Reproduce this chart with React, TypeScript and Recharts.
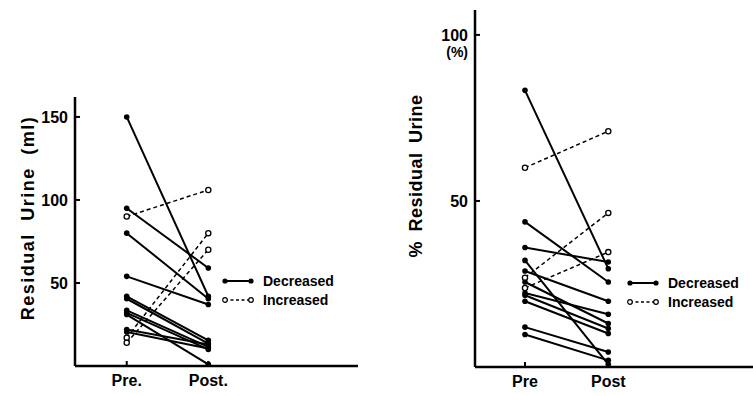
import React from 'react';
import { LineChart, Line, XAxis, YAxis, Legend } from 'recharts';

// ---------- data ----------
const seriesNames = ['Decreased', 'Increased'];

const leftCategories = ['Pre.', 'Post.'];
const leftPre = [150, 95, 80, 54, 42, 40.5, 33.5, 31, 32, 22, 20.5, 90, 17, 14];
const leftPost = [42, 59, 40.5, 37, 15.5, 13.5, 11.5, 1, 10, 13, 10.5, 106, 80, 70];
const leftGroup = [0, 0, 0, 0, 0, 0, 0, 0, 0, 0, 0, 1, 1, 1];
const leftTicks = [50, 100, 150];
const leftYLabel = 'Residual Urine (ml)';

const rightCategories = ['Pre', 'Post'];
const rightPre = [83.3, 43.7, 36, 32.1, 28.9, 25.6, 22.3, 21.6, 19.8, 12, 9.8, 60, 26.9, 23.8];
const rightPost = [29.6, 25.6, 31.6, 0.8, 19.8, 13.1, 15.9, 11.6, 10.1, 4.5, 2.0, 71, 46.4, 34.6];
const rightGroup = [0, 0, 0, 0, 0, 0, 0, 0, 0, 0, 0, 1, 1, 1];
const rightTicks = [50, 100];
const rightYLabel = '% Residual Urine';
const rightUnit = '(%)';

// ---------- helpers ----------
const FONT = '"Liberation Sans", Arial, Helvetica, sans-serif';

function buildRows(pre: number[], post: number[]) {
  const r0: any = { x: 0 };
  const r1: any = { x: 1 };
  pre.forEach((v, i) => {
    r0['p' + i] = v;
    r1['p' + i] = post[i];
  });
  return [r0, r1];
}

const makeYTick = (unit?: string) => (props: any) => {
  const { x, y, payload } = props;
  const ax = x + 7;
  return (
    <g>
      <line x1={ax} x2={ax + 5} y1={y} y2={y} stroke="#000" strokeWidth={2} />
      <text x={x} y={y} dy={6} textAnchor="end" fontSize={16} fontWeight="bold" fontFamily={FONT} fill="#000">
        {payload.value}
      </text>
      {unit && payload.value === 100 ? (
        <text x={x} y={y} dy={22} textAnchor="end" fontSize={14} fontWeight="bold" fontFamily={FONT} fill="#000">
          {unit}
        </text>
      ) : null}
    </g>
  );
};

const makeXTick = (labels: string[]) => (props: any) => {
  const { x, y, payload } = props;
  const ay = y - 2;
  return (
    <g>
      <line x1={x} x2={x} y1={ay} y2={ay - 5} stroke="#000" strokeWidth={2} />
      <text x={x} y={ay + 20} textAnchor="middle" fontSize={16} fontWeight="bold" fontFamily={FONT} fill="#000">
        {labels[payload.value]}
      </text>
    </g>
  );
};

const dotFor = (group: number) => (p: any) => {
  if (p.cx == null || p.cy == null) return <g key={p.key} />;
  return group === 0 ? (
    <circle key={p.key} cx={p.cx} cy={p.cy} r={2.8} fill="#000" stroke="none" />
  ) : (
    <circle key={p.key} cx={p.cx} cy={p.cy} r={2.6} fill="#fff" stroke="#000" strokeWidth={1.3} />
  );
};

const LegendContent = () => (
  <div style={{ fontFamily: FONT, fontSize: 14, fontWeight: 'bold', color: '#000' }}>
    {seriesNames.map((n, i) => (
      <div key={n} style={{ display: 'flex', alignItems: 'center', height: 19, whiteSpace: 'nowrap' }}>
        <svg width={32} height={10} style={{ display: 'block' }}>
          <line
            x1={3}
            x2={29}
            y1={5}
            y2={5}
            stroke="#000"
            strokeWidth={i ? 1.3 : 2}
            strokeDasharray={i ? '3 2.5' : undefined}
          />
          {[3, 29].map((cx) => (
            <circle
              key={cx}
              cx={cx}
              cy={5}
              r={i ? 2.3 : 2.6}
              fill={i ? '#fff' : '#000'}
              stroke="#000"
              strokeWidth={i ? 1.2 : 0}
            />
          ))}
        </svg>
        <span style={{ marginLeft: 9 }}>{n}</span>
      </div>
    ))}
  </div>
);

function Panel(props: {
  pre: number[];
  post: number[];
  group: number[];
  ticks: number[];
  yMax: number;
  xDomain: [number, number];
  labels: string[];
  unit?: string;
  width: number;
  height: number;
  margin: any;
  xHeight: number;
  yLabel: React.ReactNode;
  legendPos: { left: number; top: number };
}) {
  const data = buildRows(props.pre, props.post);
  return (
    <LineChart width={props.width} height={props.height} data={data} margin={props.margin}>
      <XAxis
        dataKey="x"
        type="number"
        domain={props.xDomain}
        allowDataOverflow
        ticks={[0, 1]}
        height={props.xHeight}
        tickLine={false}
        tickSize={0}
        tickMargin={2}
        tick={makeXTick(props.labels)}
        axisLine={{ stroke: '#000', strokeWidth: 2.5 }}
      />
      <YAxis
        type="number"
        domain={[0, props.yMax]}
        allowDataOverflow
        ticks={props.ticks}
        width={75}
        tickLine={false}
        tickSize={0}
        tickMargin={7}
        tick={makeYTick(props.unit)}
        axisLine={{ stroke: '#000', strokeWidth: 2.5 }}
        label={{ content: () => props.yLabel }}
      />
      <Legend
        layout="horizontal"
        verticalAlign="middle"
        align="center"
        content={<LegendContent />}
        wrapperStyle={{ left: props.legendPos.left, top: props.legendPos.top, width: 'auto', height: 'auto' }}
      />
      {props.pre.map((_, i) => (
        <Line
          key={i}
          dataKey={'p' + i}
          type="linear"
          stroke="#000"
          strokeWidth={props.group[i] === 0 ? 2 : 1.5}
          strokeDasharray={props.group[i] === 0 ? undefined : '4 3'}
          dot={dotFor(props.group[i])}
          activeDot={false}
          isAnimationActive={false}
          legendType="none"
        />
      ))}
    </LineChart>
  );
}

export default function App() {
  const leftLabel = (
    <text
      x={34}
      y={218}
      transform="rotate(-90, 34, 218)"
      textAnchor="middle"
      fontSize={18}
      fontWeight="bold"
      fontFamily={FONT}
      fill="#000"
      style={{ letterSpacing: 1.5, wordSpacing: 6 }}
    >
      {leftYLabel}
    </text>
  );
  const rightLabel = (
    <text
      x={22}
      y={176}
      transform="rotate(-90, 22, 176)"
      textAnchor="middle"
      fontSize={18}
      fontWeight="bold"
      fontFamily={FONT}
      fill="#000"
      style={{ letterSpacing: 0.5, wordSpacing: 4 }}
    >
      {rightYLabel}
    </text>
  );
  return (
    <div style={{ position: 'absolute', left: 0, top: 0, width: 753, height: 396, background: '#fff' }}>
      <div style={{ position: 'absolute', left: 0, top: 0 }}>
        <Panel
          pre={leftPre}
          post={leftPost}
          group={leftGroup}
          ticks={leftTicks}
          yMax={162}
          xDomain={[-0.634, 2.835]}
          labels={leftCategories}
          width={360}
          height={396}
          margin={{ top: 97, right: 2, bottom: 0, left: 0 }}
          xHeight={30}
          yLabel={leftLabel}
          legendPos={{ left: 222, top: 271 }}
        />
      </div>
      <div style={{ position: 'absolute', left: 400, top: 0 }}>
        <Panel
          pre={rightPre}
          post={rightPost}
          group={rightGroup}
          ticks={rightTicks}
          yMax={107.5}
          xDomain={[-0.6, 2.737]}
          labels={rightCategories}
          unit={rightUnit}
          width={353}
          height={396}
          margin={{ top: 10, right: 0, bottom: 0, left: 0 }}
          xHeight={29}
          yLabel={rightLabel}
          legendPos={{ left: 227, top: 273 }}
        />
      </div>
    </div>
  );
}
